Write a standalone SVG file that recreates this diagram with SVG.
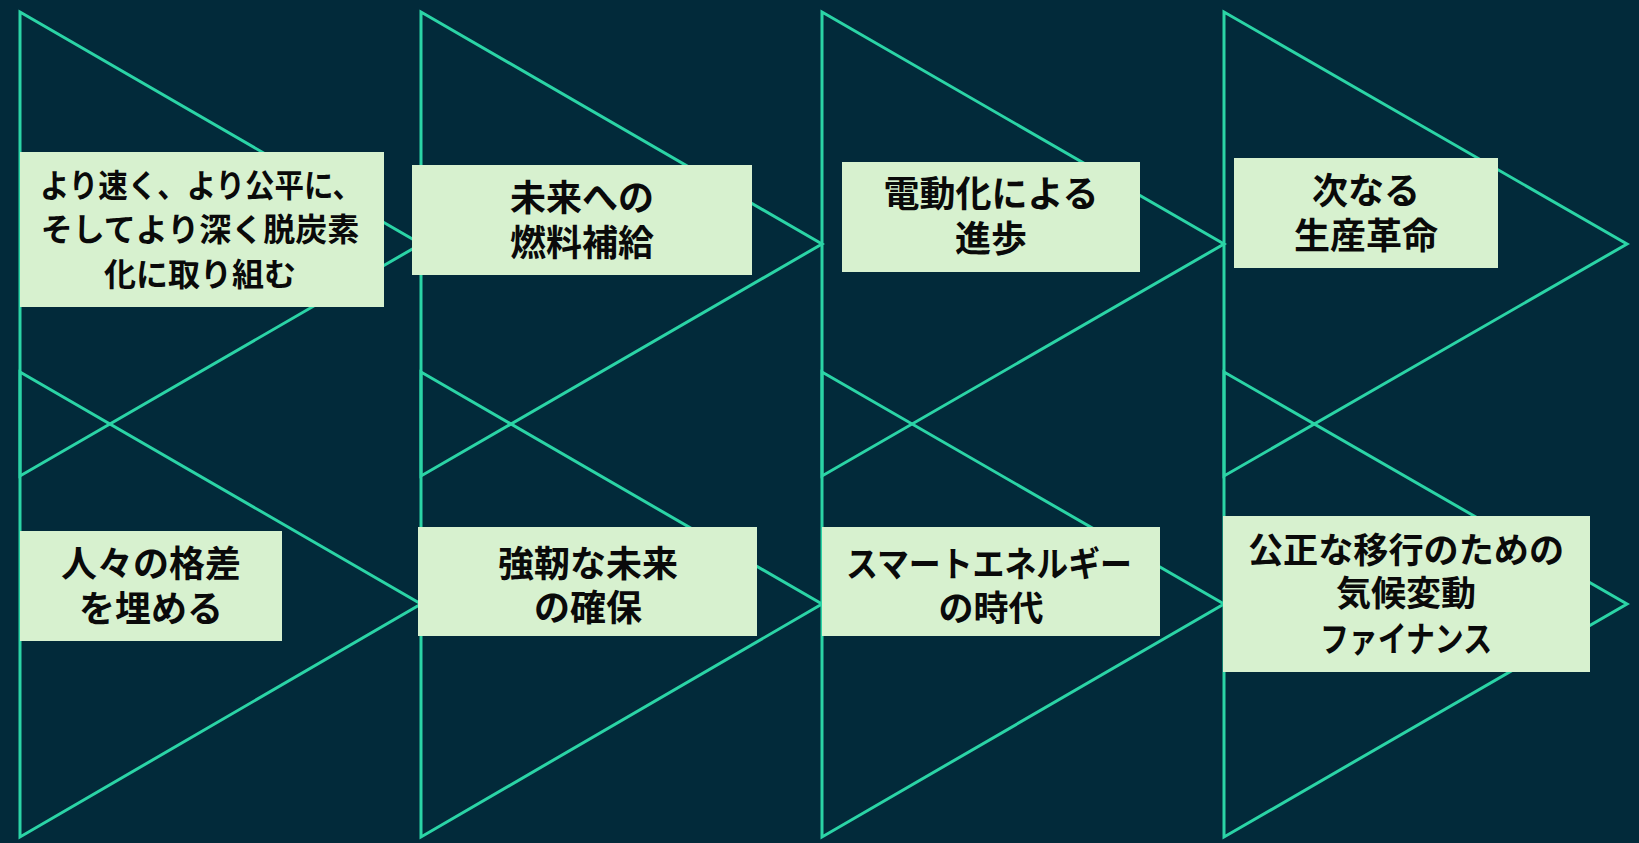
<svg xmlns="http://www.w3.org/2000/svg" width="1639" height="843" viewBox="0 0 1639 843">
<style>
.tri{fill:none;stroke:#2bd4a6;stroke-width:3;stroke-linejoin:miter}
.box{fill:#d7f1cf}
.t{font-family:"Noto Sans CJK JP","Noto Sans CJK SC",sans-serif;font-weight:700;fill:#0a0a0a;text-anchor:middle}
.f36{font-size:36px}
.f32{font-size:32px}
.f35{font-size:35px}
</style>
<rect x="0" y="0" width="1639" height="843" fill="#022a3a"/>
<g id="connectors">
<polygon class="tri" points="20,12 421,244 20,476"/>
<polygon class="tri" points="421,12 822,244 421,476"/>
<polygon class="tri" points="822,12 1224,244 822,476"/>
<polygon class="tri" points="1224,12 1627,244 1224,476"/>
<polygon class="tri" points="20,372 421,604 20,837"/>
<polygon class="tri" points="421,372 822,604 421,837"/>
<polygon class="tri" points="822,372 1224,604 822,837"/>
<polygon class="tri" points="1224,372 1627,604 1224,837"/>
</g>
<g id="node1">
<rect class="box" x="20" y="152" width="364" height="155"/>
<text class="t f32" x="201" y="197" textLength="322" lengthAdjust="spacingAndGlyphs">より速く、より公平に、</text>
<text class="t f32" x="200" y="241">そしてより深く脱炭素</text>
<text class="t f32" x="200" y="286">化に取り組む</text>
</g>
<g id="node2">
<rect class="box" x="412" y="165" width="340" height="110"/>
<text class="t f36" x="582" y="211">未来への</text>
<text class="t f36" x="582" y="256">燃料補給</text>
</g>
<g id="node3">
<rect class="box" x="842" y="162" width="298" height="110"/>
<text class="t f36" x="991" y="207">電動化による</text>
<text class="t f36" x="991" y="252">進歩</text>
</g>
<g id="node4">
<rect class="box" x="1234" y="158" width="264" height="110"/>
<text class="t f36" x="1366" y="204">次なる</text>
<text class="t f36" x="1366" y="249">生産革命</text>
</g>
<g id="node5">
<rect class="box" x="20" y="531" width="262" height="110"/>
<text class="t f36" x="151" y="577">人々の格差</text>
<text class="t f36" x="151" y="622">を埋める</text>
</g>
<g id="node6">
<rect class="box" x="418" y="527" width="339" height="109"/>
<text class="t f36" x="588" y="577">強靭な未来</text>
<text class="t f36" x="588" y="621">の確保</text>
</g>
<g id="node7">
<rect class="box" x="822" y="527" width="338" height="109"/>
<text class="t f35" x="989" y="577" textLength="286" lengthAdjust="spacingAndGlyphs">スマートエネルギー</text>
<text class="t f35" x="991" y="621">の時代</text>
</g>
<g id="node8">
<rect class="box" x="1223" y="516" width="367" height="156"/>
<text class="t f35" x="1406" y="563" textLength="316" lengthAdjust="spacingAndGlyphs">公正な移行のための</text>
<text class="t f35" x="1406" y="606">気候変動</text>
<text class="t f35" x="1406" y="652" textLength="172" lengthAdjust="spacingAndGlyphs">ファイナンス</text>
</g>
</svg>
